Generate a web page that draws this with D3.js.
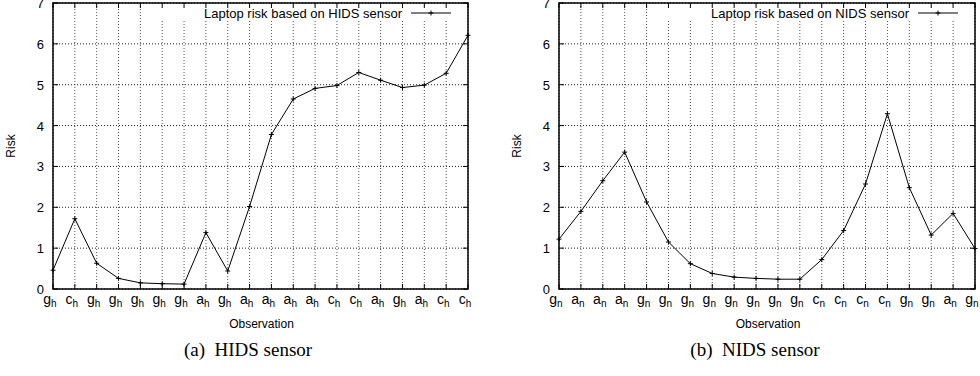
<!DOCTYPE html>
<html>
<head>
<meta charset="utf-8">
<script src="https://cdn.jsdelivr.net/npm/d3@7"></script>
<style>
  body { margin: 0; background: #fff; }
  svg { display: block; }
</style>
</head>
<body>
<script>
// HIDS panel
const hidsLabels = ["g","c","g","g","g","g","g","a","g","a","a","a","a","c","c","a","g","a","c","c"];
const hidsRisk = [0.46, 1.72, 0.63, 0.26, 0.15, 0.13, 0.12, 1.38, 0.44, 2.02, 3.78, 4.65, 4.91, 4.98, 5.30, 5.11, 4.93, 4.99, 5.28, 6.21];
// NIDS panel
const nidsLabels = ["g","a","a","a","g","g","g","g","g","g","g","g","c","c","c","c","g","g","a","g"];
const nidsRisk = [1.22, 1.90, 2.65, 3.35, 2.13, 1.15, 0.62, 0.38, 0.29, 0.26, 0.24, 0.24, 0.72, 1.43, 2.57, 4.29, 2.48, 1.32, 1.85, 0.99];
const yTicks = [0, 1, 2, 3, 4, 5, 6, 7];

const width = 980, height = 376;
const svg = d3.select("body").append("svg")
  .attr("width", width).attr("height", height);

const sans = "'Liberation Sans', Arial, Helvetica, sans-serif";
const serif = "'Liberation Serif', 'Times New Roman', serif";

function panel(opts) {
  const {x0, x1, labels, values, sub, legend, caption} = opts;
  const y0 = 289, y1 = 3;
  const x = d3.scaleLinear().domain([0, labels.length - 1]).range([x0, x1]);
  const y = d3.scaleLinear().domain([0, 7]).range([y0, y1]);
  const g = svg.append("g");

  // grid
  g.append("g").selectAll("line").data(d3.range(labels.length))
    .join("line")
    .attr("x1", i => x(i)).attr("x2", i => x(i))
    .attr("y1", y0).attr("y2", y1)
    .attr("stroke", "#555").attr("stroke-width", 1)
    .attr("stroke-dasharray", "1,2");
  g.append("g").selectAll("line").data(yTicks)
    .join("line")
    .attr("x1", x0).attr("x2", x1)
    .attr("y1", d => y(d)).attr("y2", d => y(d))
    .attr("stroke", "#222").attr("stroke-width", 1)
    .attr("stroke-dasharray", "1,2");

  // legend box (blanks grid behind it)
  const legEnd = x1 - 66;
  g.append("rect")
    .attr("x", opts.legStart).attr("y", y1 + 1)
    .attr("width", x1 - opts.legStart - 1).attr("height", 16)
    .attr("fill", "#fff");

  // ticks (inside, mirrored)
  const tl = 5;
  labels.forEach((_, i) => {
    g.append("line").attr("x1", x(i)).attr("x2", x(i)).attr("y1", y0).attr("y2", y0 - tl)
      .attr("stroke", "#000");
    g.append("line").attr("x1", x(i)).attr("x2", x(i)).attr("y1", y1).attr("y2", y1 + tl)
      .attr("stroke", "#000");
  });
  yTicks.forEach(d => {
    g.append("line").attr("x1", x0).attr("x2", x0 + tl).attr("y1", y(d)).attr("y2", y(d))
      .attr("stroke", "#000");
    g.append("line").attr("x1", x1).attr("x2", x1 - tl).attr("y1", y(d)).attr("y2", y(d))
      .attr("stroke", "#000");
  });

  // frame
  g.append("rect")
    .attr("x", x0).attr("y", y1)
    .attr("width", x1 - x0).attr("height", y0 - y1)
    .attr("fill", "none").attr("stroke", "#000").attr("stroke-width", 1.5);

  // y tick labels
  g.append("g").selectAll("text").data(yTicks)
    .join("text")
    .attr("x", x0 - 9).attr("y", d => y(d) + 5)
    .attr("text-anchor", "end")
    .attr("font-family", sans).attr("font-size", 13)
    .text(d => d);

  // x tick labels with subscript
  const xt = g.append("g").selectAll("text").data(labels)
    .join("text")
    .attr("x", (d, i) => x(i) - 3).attr("y", 304)
    .attr("text-anchor", "middle")
    .attr("font-family", sans).attr("font-size", 14);
  xt.append("tspan").text(d => d);
  xt.append("tspan").attr("dy", 3).attr("font-size", 10).text(sub);

  // axis titles
  g.append("text")
    .attr("transform", `translate(${x0 - 38},${(y0 + y1) / 2}) rotate(-90)`)
    .attr("text-anchor", "middle")
    .attr("font-family", sans).attr("font-size", 12)
    .text("Risk");
  g.append("text")
    .attr("x", (x0 + x1) / 2 + 1).attr("y", 328)
    .attr("text-anchor", "middle")
    .attr("font-family", sans).attr("font-size", 12)
    .text("Observation");

  // data line
  const line = d3.line().x((d, i) => x(i)).y(d => y(d));
  g.append("path").datum(values)
    .attr("d", line)
    .attr("fill", "none").attr("stroke", "#000").attr("stroke-width", 1);
  const m = 2.5;
  g.append("g").selectAll("path").data(values)
    .join("path")
    .attr("d", (d, i) => `M${x(i) - m},${y(d)}H${x(i) + m}M${x(i)},${y(d) - m}V${y(d) + m}`)
    .attr("stroke", "#000").attr("stroke-width", 1);

  // legend
  g.append("text")
    .attr("x", legEnd).attr("y", y1 + 15)
    .attr("text-anchor", "end")
    .attr("font-family", sans).attr("font-size", 13)
    .text(legend);
  const lx0 = legEnd + 9, lx1 = legEnd + 49, ly = y1 + 10;
  g.append("line").attr("x1", lx0).attr("x2", lx1).attr("y1", ly).attr("y2", ly)
    .attr("stroke", "#000");
  const lm = (lx0 + lx1) / 2;
  g.append("path").attr("d", `M${lm - m},${ly}H${lm + m}M${lm},${ly - m}V${ly + m}`)
    .attr("stroke", "#000");

  // caption
  g.append("text")
    .attr("x", opts.capX).attr("y", 356)
    .attr("text-anchor", "middle")
    .attr("font-family", serif).attr("font-size", 19)
    .attr("xml:space", "preserve")
    .text(caption);
}

panel({x0: 53, x1: 468, labels: hidsLabels, values: hidsRisk, sub: "h",
  legend: "Laptop risk based on HIDS sensor", legStart: 150,
  caption: "(a)  HIDS sensor", capX: 248});
panel({x0: 559, x1: 975, labels: nidsLabels, values: nidsRisk, sub: "n",
  legend: "Laptop risk based on NIDS sensor", legStart: 655,
  caption: "(b)  NIDS sensor", capX: 755});
</script>
</body>
</html>
